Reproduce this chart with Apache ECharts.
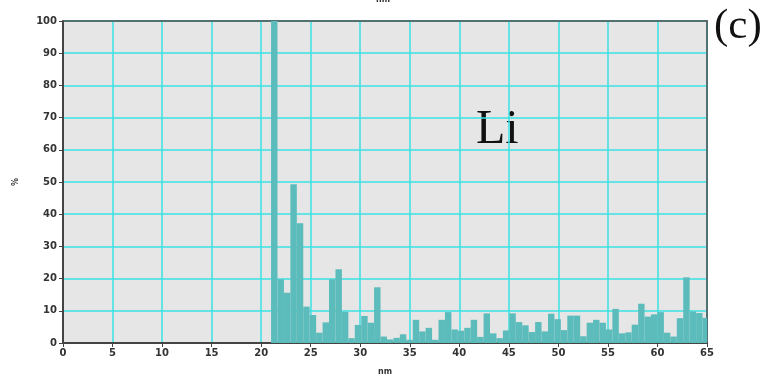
<!DOCTYPE html>
<html>
<head>
<meta charset="utf-8">
<script src="https://cdn.jsdelivr.net/npm/echarts@6/dist/echarts.min.js"></script>
<style>
html,body{margin:0;padding:0;background:#fff;}
#c{width:766px;height:376px;}
</style>
</head>
<body>
<div id="c"></div>
<script>
// Histogram bins: first bin start (nm) and bin width (nm)
const binStart = 21.0;
const binWidth = 0.65;
// Percentage value of each bin
const values = [
  100, 19.8, 15.6, 49.3, 37.2, 11.3, 8.7, 3.2, 6.4, 19.8,
  22.9, 9.7, 1.5, 5.6, 8.4, 6.3, 17.3, 2.0, 1.1, 1.6,
  2.7, 1.0, 7.2, 3.6, 4.7, 1.0, 7.2, 9.6, 4.2, 3.8,
  4.7, 7.2, 1.9, 9.2, 3.0, 1.5, 3.9, 9.2, 6.5, 5.5,
  3.4, 6.5, 3.6, 9.1, 7.4, 4.0, 8.5, 8.5, 2.1, 6.3,
  7.2, 6.3, 4.2, 10.6, 3.0, 3.3, 5.7, 12.2, 8.2, 8.9,
  9.6, 3.2, 2.0, 7.7, 20.4, 9.8, 9.3, 7.8
];
const xTicks = [0,5,10,15,20,25,30,35,40,45,50,55,60,65];
const yTicks = [0,10,20,30,40,50,60,70,80,90,100];

const barData = values.map((v, i) => [binStart + i * binWidth, binStart + (i + 1) * binWidth, v]);

const chart = echarts.init(document.getElementById('c'), null, {renderer: 'canvas'});
const labelStyle = {color: '#333', fontSize: 10, fontWeight: 'bold', fontFamily: 'DejaVu Sans'};
const nameStyle = {color: '#333', fontSize: 8, fontWeight: 'bold', fontFamily: 'DejaVu Sans'};
const frameAxis = {
  axisLine: {show: true, onZero: false, lineStyle: {color: '#555', width: 1.5}},
  axisTick: {show: false}, axisLabel: {show: false}, splitLine: {show: false}
};
chart.setOption({
  animation: false,
  backgroundColor: '#ffffff',
  grid: {
    left: 63, right: 59, top: 21, bottom: 33,
    outerBoundsMode: 'none', containLabel: false,
    show: true, backgroundColor: '#e6e6e6', borderColor: '#555', borderWidth: 1.5
  },
  xAxis: [{
    type: 'value', min: 0, max: 65, interval: 5,
    name: 'nm', nameLocation: 'middle', nameGap: 25, nameTextStyle: nameStyle,
    axisLine: {show: true, onZero: false, lineStyle: {color: '#444', width: 2}},
    axisTick: {show: true, length: 4, lineStyle: {color: '#444', width: 1}},
    axisLabel: Object.assign({margin: 5, formatter: v => xTicks.includes(v) ? String(v) : ''}, labelStyle),
    splitLine: {show: true, lineStyle: {color: '#3ae0e2', width: 1.5}}
  }, Object.assign({type: 'value', min: 0, max: 65, position: 'top'}, frameAxis)],
  yAxis: [{
    type: 'value', min: 0, max: 100, interval: 10,
    name: '%', nameLocation: 'middle', nameGap: 43, nameRotate: 90, nameTextStyle: nameStyle,
    axisLine: {show: true, onZero: false, lineStyle: {color: '#444', width: 2}},
    axisTick: {show: true, length: 4, lineStyle: {color: '#444', width: 1}},
    axisLabel: Object.assign({margin: 6, formatter: v => yTicks.includes(v) ? String(v) : ''}, labelStyle),
    splitLine: {show: true, lineStyle: {color: '#3ae0e2', width: 1.5}}
  }, Object.assign({type: 'value', min: 0, max: 100, position: 'right'}, frameAxis)],
  series: [{
    type: 'custom',
    clip: true,
    data: barData,
    encode: {x: [0, 1], y: 2},
    renderItem: function (params, api) {
      const p0 = api.coord([api.value(0), api.value(2)]);
      const p1 = api.coord([api.value(1), 0]);
      return {
        type: 'rect',
        shape: {x: p0[0], y: p0[1], width: p1[0] - p0[0], height: p1[1] - p0[1]},
        style: {fill: '#5cbcbc'}
      };
    }
  }],
  graphic: [
    {type: 'text', left: 'center', top: -4, style: {text: 'nm', fill: '#333', font: 'bold 8px "DejaVu Sans"'}},
    {type: 'text', left: 476, top: 106, style: {text: 'Li', fill: '#111', font: '48px "Liberation Serif"'}},
    {type: 'text', left: 714, top: 5, style: {text: '(c)', fill: '#111', font: '43px "Liberation Serif"'}}
  ]
});
</script>
</body>
</html>
